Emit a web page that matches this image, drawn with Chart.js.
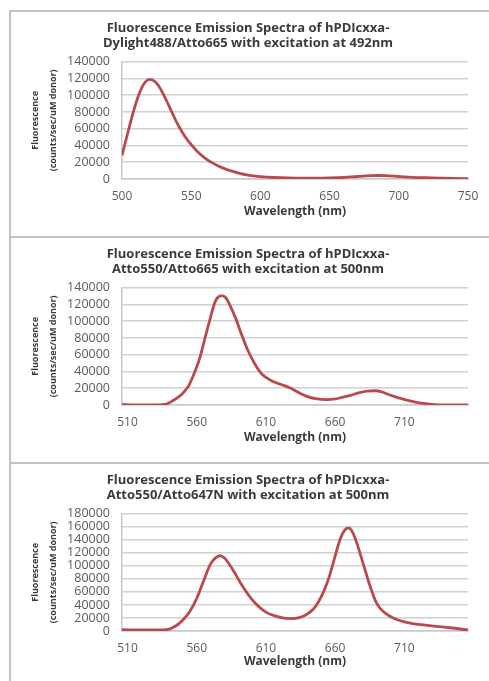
<!DOCTYPE html>
<html>
<head>
<meta charset="utf-8">
<script src="https://cdn.jsdelivr.net/npm/chart.js@4.4.1/dist/chart.umd.min.js"></script>
<style>
  html, body { margin: 0; padding: 0; background: #fff; }
  body { width: 489px; height: 681px; position: relative; overflow: hidden; }
  .vline { position: absolute; left: 9px; top: 10px; width: 2px; height: 671px; background: #c4c4c4; }
  .hline { position: absolute; left: 9px; width: 480px; height: 2px; background: #c4c4c4; }
  .panel { position: absolute; left: 12px; width: 477px; }
  canvas { display: block; }
</style>
</head>
<body>
<div class="vline"></div>
<div class="hline" style="top:10px"></div>
<div class="hline" style="top:236px"></div>
<div class="hline" style="top:462px"></div>
<div class="panel" style="top:13px;height:223px"><canvas id="c1" width="477" height="223"></canvas></div>
<div class="panel" style="top:239px;height:223px"><canvas id="c2" width="477" height="223"></canvas></div>
<div class="panel" style="top:465px;height:216px"><canvas id="c3" width="477" height="216"></canvas></div>
<script>
// ---- Data ----
const titles1 = ["Fluorescence Emission Spectra of hPDIcxxa-", "Dylight488/Atto665 with excitation at 492nm"];
const titles2 = ["Fluorescence Emission Spectra of hPDIcxxa-", "Atto550/Atto665 with excitation at 500nm"];
const titles3 = ["Fluorescence Emission Spectra of hPDIcxxa-", "Atto550/Atto647N with excitation at 500nm"];
const yTitle = ["Fluorescence", "(counts/sec/uM donor)"];
const xTitle = "Wavelength (nm)";

const xTicks1 = [500, 550, 600, 650, 700, 750];
const xTicks23 = [510, 560, 610, 660, 710];

const wl1 = [500, 504, 508, 512, 516, 520, 524, 528, 532, 536, 540, 545, 550, 555, 560, 565, 570, 575, 580, 585, 590, 595, 600, 610, 620, 630, 640, 650, 660, 670, 680, 685, 690, 700, 710, 720, 730, 740, 750];
const fl1 = [28000, 54000, 79000, 100000, 114000, 119000, 116000, 107000, 94000, 80000, 66000, 52000, 41000, 32000, 25000, 19500, 15200, 11800, 9000, 6800, 5000, 3800, 2900, 1800, 1200, 1000, 1000, 1200, 1800, 3000, 4000, 4200, 4000, 3000, 2000, 1500, 1000, 600, 500];

const wl2 = [506, 515, 525, 537, 544, 549, 554, 558, 562, 566, 570, 573, 575, 578, 581, 584, 588, 592, 597, 602, 607, 614, 621, 628, 634, 640, 647, 654, 659, 665, 671, 677, 683, 689, 694, 698, 703, 708, 714, 720, 726, 732, 740, 756];
const fl2 = [800, 0, 0, 800, 6500, 12500, 22500, 37000, 55000, 80000, 105000, 122000, 128000, 130500, 128000, 119000, 104000, 86000, 65000, 49000, 37000, 29000, 24500, 20000, 14500, 10000, 7200, 6500, 7000, 9000, 11500, 14500, 16500, 17000, 15500, 12800, 10000, 7500, 5000, 2800, 1500, 500, 200, 0];

const wl3 = [506, 526, 538, 545, 550, 555, 560, 565, 570, 574, 577, 580, 584, 588, 593, 600, 605, 610, 616, 622, 628, 634, 639, 644, 648, 652, 656, 660, 664, 668, 670, 673, 676, 680, 683, 686, 689, 692, 695, 699, 704, 710, 716, 722, 731, 743, 756];
const fl3 = [2000, 1500, 2000, 8000, 17000, 30000, 50000, 77000, 103000, 113000, 115500, 112000, 101000, 87000, 69000, 48000, 37000, 29000, 23500, 20000, 19000, 20500, 25000, 33000, 45000, 62000, 85000, 115000, 143000, 157000, 158000, 150000, 133000, 105000, 84000, 64000, 47000, 36000, 29500, 23500, 18000, 14000, 11500, 9800, 7500, 5000, 1500];

// ---- Styling ----
const FONT = "'Open Sans', Lato, sans-serif";
const LINE_COLOR = "#b84a4c";
const GRID_COLOR = "#d0d0d0";
const TEXT_DARK = "#3a3a3a";
const TEXT_TICK = "#5a5a5a";

function makeChart(id, wl, fl, titleLines, xMin, xMax, xTicks, yMax, canvasH, xTitlePadBottom) {
  const pts = wl.map((w, i) => ({ x: w, y: fl[i] }));
  return new Chart(document.getElementById(id), {
    type: 'line',
    data: {
      datasets: [{
        data: pts,
        borderColor: LINE_COLOR,
        borderWidth: 2.8,
        pointRadius: 0,
        fill: false,
        cubicInterpolationMode: 'monotone'
      }]
    },
    options: {
      responsive: false,
      animation: false,
      events: [],
      layout: { autoPadding: false, padding: { left: 0, right: 5, top: 0, bottom: 0 } },
      plugins: {
        legend: { display: false },
        tooltip: { enabled: false },
        title: {
          display: true,
          text: titleLines,
          color: TEXT_DARK,
          font: { family: FONT, weight: 'bold', size: 13, lineHeight: 1.22 },
          padding: { top: 7, bottom: 10 }
        }
      },
      scales: {
        x: {
          type: 'linear',
          min: xMin,
          max: xMax,
          afterBuildTicks: (axis) => { axis.ticks = xTicks.map(v => ({ value: v })); },
          afterFit: (axis) => { axis.height = canvasH - 166; },
          grid: { display: false, drawTicks: false },
          border: { display: true, color: '#c8c8c8', width: 1.5 },
          ticks: {
            color: TEXT_TICK,
            font: { family: FONT, size: 12 },
            padding: 10,
            maxRotation: 0,
            autoSkip: false,
            callback: (v) => String(v)
          },
          title: {
            display: true,
            text: xTitle,
            color: TEXT_DARK,
            font: { family: FONT, weight: 'bold', size: 12, lineHeight: 1.2 },
            padding: { top: 0, bottom: xTitlePadBottom }
          }
        },
        y: {
          min: 0,
          max: yMax,
          afterFit: (axis) => { axis.width = 110; },
          ticks: {
            stepSize: 20000,
            autoSkip: false,
            color: TEXT_TICK,
            font: { family: FONT, size: 12.5 },
            padding: 12,
            callback: (v) => String(v)
          },
          grid: { color: GRID_COLOR, lineWidth: 1.6, drawTicks: false },
          border: { display: true, color: '#c8c8c8', width: 1.5 },
          title: {
            display: true,
            text: yTitle,
            color: TEXT_DARK,
            font: { family: FONT, weight: 'bold', size: 9, lineHeight: 2.0 },
            padding: { top: 14, bottom: 0 }
          }
        },
        yRightSpacer: {
          position: 'right',
          display: true,
          min: 0,
          max: yMax,
          afterFit: (axis) => { axis.width = 16; },
          grid: { display: false, drawTicks: false },
          border: { display: false },
          ticks: { display: false }
        }
      }
    }
  });
}

makeChart('c1', wl1, fl1, titles1, 500, 750, xTicks1, 140000, 223, 16.8);
makeChart('c2', wl2, fl2, titles2, 506, 756, xTicks23, 140000, 223, 16.8);
makeChart('c3', wl3, fl3, titles3, 506, 756, xTicks23, 180000, 216, 11.8);
</script>
</body>
</html>
